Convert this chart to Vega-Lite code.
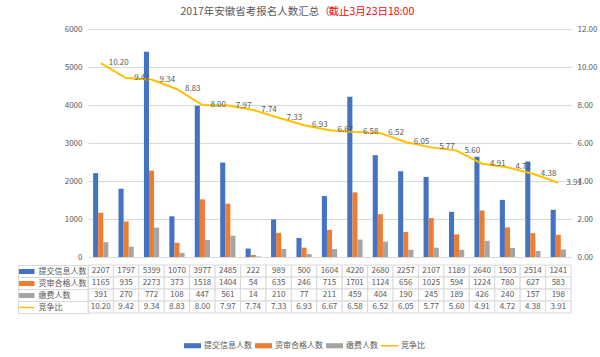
{
  "$schema": "https://vega.github.io/schema/vega-lite/v6.json",
  "padding": {"left": 15, "top": 6, "right": 5, "bottom": 5},
  "data": {
    "values": [
      {"city": "亳州", "提交信息人数": 2207, "资审合格人数": 1165, "缴费人数": 391, "竞争比": 10.20},
      {"city": "马鞍山市", "提交信息人数": 1797, "资审合格人数": 935, "缴费人数": 270, "竞争比": 9.42},
      {"city": "合肥市", "提交信息人数": 5399, "资审合格人数": 2273, "缴费人数": 772, "竞争比": 9.34},
      {"city": "淮北市", "提交信息人数": 1070, "资审合格人数": 373, "缴费人数": 108, "竞争比": 8.83},
      {"city": "省直", "提交信息人数": 3977, "资审合格人数": 1518, "缴费人数": 447, "竞争比": 8.00},
      {"city": "六安市", "提交信息人数": 2485, "资审合格人数": 1404, "缴费人数": 561, "竞争比": 7.97},
      {"city": "宿松县", "提交信息人数": 222, "资审合格人数": 54, "缴费人数": 14, "竞争比": 7.74},
      {"city": "铜陵市", "提交信息人数": 989, "资审合格人数": 635, "缴费人数": 210, "竞争比": 7.33},
      {"city": "广德县", "提交信息人数": 500, "资审合格人数": 246, "缴费人数": 77, "竞争比": 6.93},
      {"city": "淮南市", "提交信息人数": 1604, "资审合格人数": 715, "缴费人数": 211, "竞争比": 6.67},
      {"city": "阜阳", "提交信息人数": 4220, "资审合格人数": 1701, "缴费人数": 459, "竞争比": 6.58},
      {"city": "芜湖市", "提交信息人数": 2680, "资审合格人数": 1124, "缴费人数": 404, "竞争比": 6.52},
      {"city": "安庆", "提交信息人数": 2257, "资审合格人数": 656, "缴费人数": 190, "竞争比": 6.05},
      {"city": "蚌埠", "提交信息人数": 2107, "资审合格人数": 1025, "缴费人数": 245, "竞争比": 5.77},
      {"city": "池州", "提交信息人数": 1189, "资审合格人数": 594, "缴费人数": 189, "竞争比": 5.60},
      {"city": "滁州", "提交信息人数": 2640, "资审合格人数": 1224, "缴费人数": 426, "竞争比": 4.91},
      {"city": "宣城市", "提交信息人数": 1503, "资审合格人数": 780, "缴费人数": 240, "竞争比": 4.72},
      {"city": "宿州市", "提交信息人数": 2514, "资审合格人数": 627, "缴费人数": 157, "竞争比": 4.38},
      {"city": "黄山市", "提交信息人数": 1241, "资审合格人数": 583, "缴费人数": 198, "竞争比": 3.91}
    ]
  },
  "spacing": 0,
  "vconcat": [
    {
      "width": 483,
      "height": 228,
      "layer": [
        {
          "transform": [{"fold": ["提交信息人数", "资审合格人数", "缴费人数"], "as": ["series", "count"]}],
          "mark": {"type": "bar"},
          "encoding": {
            "x": {
              "field": "city", "type": "nominal",
              "sort": ["亳州","马鞍山市","合肥市","淮北市","省直","六安市","宿松县","铜陵市","广德县","淮南市","阜阳","芜湖市","安庆","蚌埠","池州","滁州","宣城市","宿州市","黄山市"],
              "scale": {"paddingInner": 0, "paddingOuter": 0},
              "axis": {
                "title": "）", "titleAngle": 0, "titleAlign": "left", "titleBaseline": "middle",
                "titleX": 330, "titleY": -246, "titleFontSize": 10.5, "titleFontWeight": "normal", "titleColor": "#595959",
                "grid": false, "domain": true, "domainColor": "#d9d9d9",
                "ticks": true, "tickBand": "extent", "tickSize": 20, "tickColor": "#d9d9d9",
                "labelAngle": 0, "labelBaseline": "middle", "labelPadding": -10,
                "labelOverlap": false, "labelFontSize": 8, "labelLineHeight": 10,
                "labelExpr": "datum.value === '马鞍山市' ? ['马鞍山', '市'] : datum.value"
              }
            },
            "xOffset": {"field": "series", "sort": ["提交信息人数", "资审合格人数", "缴费人数"], "scale": {"paddingInner": 0, "paddingOuter": 1.13}},
            "y": {
              "field": "count", "type": "quantitative",
              "scale": {"domain": [0, 6000], "nice": false},
              "axis": {
                "title": "2017年安徽省考报名人数汇总（", "titleAngle": 0, "titleAlign": "left", "titleBaseline": "middle",
                "titleX": 92, "titleY": -18, "titleFontSize": 10.5, "titleFontWeight": "normal", "titleColor": "#595959",
                "values": [0, 1000, 2000, 3000, 4000, 5000, 6000], "format": "d", "grid": true, "gridColor": "#d9d9d9", "ticks": false, "domain": false, "labelPadding": 6, "labelFontSize": 8
              }
            },
            "color": {
              "field": "series", "type": "nominal",
              "scale": {"domain": ["提交信息人数", "资审合格人数", "缴费人数", "竞争比"], "range": ["#4472C4", "#ED7D31", "#A5A5A5", "#FFC000"]},
              "legend": {
                "title": null, "orient": "none", "legendX": 96, "legendY": 308, "direction": "horizontal",
                "symbolSize": 289, "labelOffset": 3, "columnPadding": 3, "labelFontSize": 8, "labelColor": "#595959",
                "encode": {
                  "symbols": {
                    "update": {
                      "shape": {"signal": "datum.value === '竞争比' ? 'M-1,-0.09H1V0.09H-1Z' : 'M-1,-0.3H1V0.3H-1Z'"},
                      "fill": {"scale": "color", "field": "value"},
                      "strokeWidth": {"value": 0},
                      "opacity": {"value": 1}
                    }
                  }
                }
              }
            }
          }
        },
        {
          "encoding": {
            "x": {
              "field": "city", "type": "nominal",
              "sort": ["亳州","马鞍山市","合肥市","淮北市","省直","六安市","宿松县","铜陵市","广德县","淮南市","阜阳","芜湖市","安庆","蚌埠","池州","滁州","宣城市","宿州市","黄山市"],
              "scale": {"paddingInner": 0, "paddingOuter": 0},
              "axis": null
            },
            "y": {
              "field": "竞争比", "type": "quantitative",
              "scale": {"domain": [0, 12], "nice": false},
              "axis": {
                "orient": "right",
                "title": "截止3月23日18:00", "titleAngle": 0, "titleAlign": "left", "titleBaseline": "middle",
                "titleX": -243, "titleY": -18, "titleFontSize": 10.5, "titleFontWeight": "normal", "titleColor": "#FF0000",
                "values": [0, 2, 4, 6, 8, 10, 12], "format": ".2f", "grid": false, "ticks": false, "domain": false, "labelPadding": 6, "labelFontSize": 8
              }
            }
          },
          "layer": [
            {
              "mark": {"type": "line", "strokeWidth": 2},
              "encoding": {"color": {"datum": "竞争比"}}
            },
            {
              "mark": {"type": "text", "align": "left", "baseline": "middle", "dx": 8, "fontSize": 8, "color": "#595959"},
              "encoding": {"text": {"field": "竞争比", "type": "quantitative", "format": ".2f"}}
            }
          ]
        }
      ],
      "resolve": {"scale": {"y": "independent"}}
    },
    {
      "width": 483,
      "height": 48,
      "transform": [{"fold": ["提交信息人数", "资审合格人数", "缴费人数", "竞争比"], "as": ["row", "v"]}],
      "layer": [
        {
          "encoding": {
            "x": {
              "field": "city", "type": "nominal",
              "sort": ["亳州","马鞍山市","合肥市","淮北市","省直","六安市","宿松县","铜陵市","广德县","淮南市","阜阳","芜湖市","安庆","蚌埠","池州","滁州","宣城市","宿州市","黄山市"],
              "scale": {"paddingInner": 0, "paddingOuter": 0},
              "axis": null
            },
            "y": {
              "field": "row", "type": "nominal",
              "scale": {"domain": ["提交信息人数", "资审合格人数", "缴费人数", "竞争比"], "paddingInner": 0, "paddingOuter": 0},
              "axis": {
                "title": null, "orient": "left", "domain": true, "domainColor": "#d9d9d9",
                "ticks": true, "tickBand": "extent", "tickSize": 70, "tickColor": "#d9d9d9",
                "labelAlign": "left", "labelBaseline": "middle", "labelPadding": -20, "labelFontSize": 8
              }
            }
          },
          "layer": [
            {"mark": {"type": "rect", "fill": "white", "stroke": "#d9d9d9", "strokeWidth": 1}},
            {
              "transform": [{"filter": "datum.row !== '竞争比'"}],
              "mark": {"type": "text", "fontSize": 8, "color": "#595959"},
              "encoding": {"text": {"field": "v", "type": "quantitative", "format": "d"}}
            },
            {
              "transform": [{"filter": "datum.row === '竞争比'"}],
              "mark": {"type": "text", "fontSize": 8, "color": "#595959"},
              "encoding": {"text": {"field": "v", "type": "quantitative", "format": ".2f"}}
            }
          ]
        },
        {
          "mark": {"type": "rect", "opacity": 0},
          "encoding": {
            "y": {
              "field": "row", "type": "nominal",
              "scale": {"domain": ["提交信息人数", "资审合格人数", "缴费人数", "竞争比"], "paddingInner": 0, "paddingOuter": 0},
              "axis": {
                "title": null, "orient": "left", "offset": 70, "domain": true, "domainColor": "#d9d9d9",
                "labels": false, "ticks": true, "tickSize": -16,
                "tickColor": {"condition": [
                  {"test": "datum.value === '提交信息人数'", "value": "#4472C4"},
                  {"test": "datum.value === '资审合格人数'", "value": "#ED7D31"},
                  {"test": "datum.value === '缴费人数'", "value": "#A5A5A5"}
                ], "value": "#FFC000"},
                "tickWidth": {"condition": {"test": "datum.value === '竞争比'", "value": 1.5}, "value": 5}
              }
            }
          }
        }
      ],
      "resolve": {"scale": {"y": "independent"}}
    }
  ],
  "config": {
    "font": "Noto Sans CJK SC",
    "view": {"stroke": null},
    "axis": {"labelColor": "#595959", "labelFont": "Noto Sans CJK SC", "titleFont": "Noto Sans CJK SC"},
    "legend": {"labelFont": "Noto Sans CJK SC"}
  }
}
